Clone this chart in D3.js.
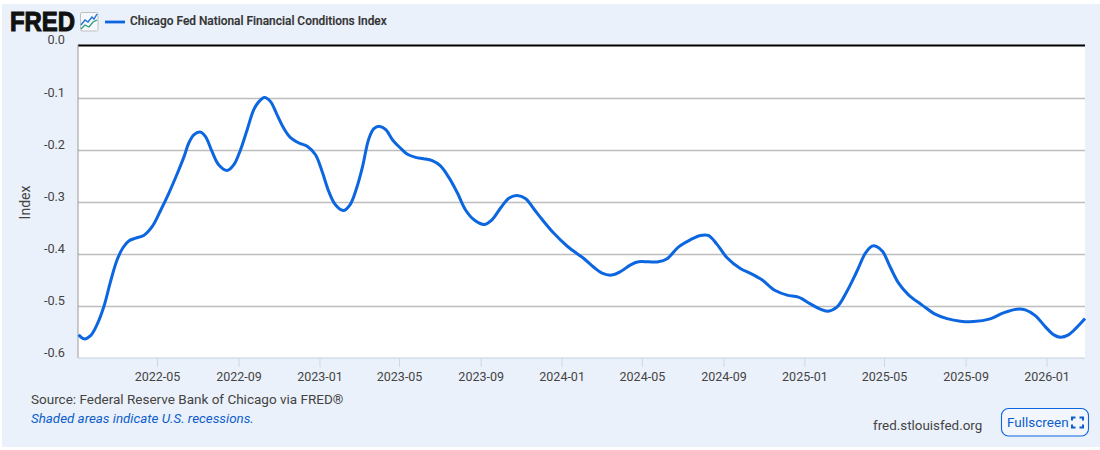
<!DOCTYPE html>
<html><head><meta charset="utf-8">
<script src="https://cdn.jsdelivr.net/npm/d3@7/dist/d3.min.js"></script>
<style>
html,body{margin:0;padding:0;background:#fff;overflow:hidden}
svg{display:block}
text{font-family:Roboto,sans-serif}
</style></head><body>
<svg id="c" width="1100" height="450"></svg>
<script>
const seriesName = "Chicago Fed National Financial Conditions Index";
const dates = ["2022-01-03","2022-01-11","2022-01-21","2022-01-31","2022-02-10","2022-02-20","2022-03-02","2022-03-11","2022-03-20","2022-03-30","2022-04-11","2022-04-24","2022-05-07","2022-05-19","2022-06-01","2022-06-11","2022-06-18","2022-06-26","2022-07-05","2022-07-13","2022-07-23","2022-08-02","2022-08-15","2022-08-25","2022-09-04","2022-09-14","2022-09-24","2022-10-02","2022-10-10","2022-10-19","2022-10-29","2022-11-08","2022-11-18","2022-12-01","2022-12-14","2022-12-26","2023-01-05","2023-01-15","2023-01-25","2023-02-06","2023-02-16","2023-02-26","2023-03-07","2023-03-16","2023-03-24","2023-04-02","2023-04-11","2023-04-21","2023-05-03","2023-05-13","2023-05-26","2023-06-07","2023-06-20","2023-07-02","2023-07-15","2023-07-28","2023-08-09","2023-08-22","2023-09-06","2023-09-18","2023-10-01","2023-10-14","2023-10-26","2023-11-08","2023-11-20","2023-12-03","2023-12-20","2024-01-10","2024-02-04","2024-02-19","2024-03-02","2024-03-16","2024-03-30","2024-04-14","2024-04-26","2024-05-11","2024-05-26","2024-06-08","2024-06-25","2024-07-13","2024-07-28","2024-08-09","2024-08-22","2024-09-06","2024-09-27","2024-10-11","2024-10-29","2024-11-18","2024-12-06","2024-12-23","2025-01-10","2025-01-25","2025-02-05","2025-02-19","2025-03-06","2025-03-21","2025-04-03","2025-04-13","2025-04-20","2025-04-29","2025-05-10","2025-05-23","2025-06-07","2025-06-27","2025-07-17","2025-08-04","2025-08-24","2025-09-13","2025-10-08","2025-10-28","2025-11-17","2025-11-30","2025-12-15","2025-12-30","2026-01-12","2026-01-22","2026-02-03","2026-02-16","2026-02-28"];
const values = [-.5555,-.5632,-.5570,-.5350,-.5011,-.4530,-.4112,-.3875,-.3746,-.3694,-.3644,-.3471,-.3149,-.2828,-.2443,-.2123,-.1865,-.1705,-.1654,-.1738,-.2028,-.2283,-.2393,-.2283,-.1994,-.1609,-.1224,-.1065,-.0988,-.1065,-.1320,-.1577,-.1757,-.1865,-.1931,-.2091,-.2412,-.2797,-.3053,-.3163,-.3053,-.2732,-.2316,-.1802,-.1590,-.1546,-.1609,-.1802,-.1962,-.2077,-.2142,-.2167,-.2206,-.2302,-.2527,-.2828,-.3149,-.3342,-.3432,-.3342,-.3116,-.2924,-.2874,-.2937,-.3130,-.3342,-.3598,-.3856,-.4092,-.4260,-.4368,-.4406,-.4337,-.4208,-.4150,-.4150,-.4150,-.4092,-.3867,-.3727,-.3644,-.3644,-.3810,-.4067,-.4285,-.4368,-.4497,-.4703,-.4791,-.4830,-.4959,-.5061,-.5099,-.5022,-.4722,-.4337,-.3983,-.3848,-.3856,-.3952,-.4241,-.4560,-.4785,-.4978,-.5157,-.5242,-.5292,-.5299,-.5247,-.5132,-.5061,-.5074,-.5184,-.5396,-.5555,-.5600,-.5555,-.5407,-.5242];
const xTickLabels = ["2022-05","2022-09","2023-01","2023-05","2023-09","2024-01","2024-05","2024-09","2025-01","2025-05","2025-09","2026-01"];
const yTicks = [0,-0.1,-0.2,-0.3,-0.4,-0.5,-0.6];
const sourceText = "Source: Federal Reserve Bank of Chicago via FRED®";
const noteText = "Shaded areas indicate U.S. recessions.";
const siteText = "fred.stlouisfed.org";

const parse = d3.utcParse("%Y-%m-%d"), parseM = d3.utcParse("%Y-%m"), fmtM = d3.utcFormat("%Y-%m");
const L=78,R=1085,T=46,B=358;
const svg = d3.select("#c");
svg.append("rect").attr("x",2).attr("y",4).attr("width",1098).attr("height",443).attr("fill","#ebf1fa");
svg.append("rect").attr("x",L).attr("y",T-1).attr("width",R-L).attr("height",B-T+1).attr("fill","#fff");

const x = d3.scaleUtc().domain([parse("2022-01-02"),parse("2026-02-28")]).range([L,R]);
const y = d3.scaleLinear().domain([-0.6,0]).range([B,T]);

// y axis + gridlines
const gy = svg.append("g").attr("transform",`translate(${L},0)`)
  .call(d3.axisLeft(y).tickValues(yTicks).tickSize(-(R-L)).tickPadding(0).tickFormat(d3.format(".1f")));
gy.select(".domain").remove();
gy.selectAll("line").attr("stroke",d=>d===0?"#000":"#bdbdbd").attr("stroke-width",d=>d===0?2:1.6)
  .attr("transform",d=>d===0?"translate(0,-0.9)":null);
gy.selectAll("line").filter(d=>d===-0.6).remove();
gy.selectAll("text").attr("x",-13).attr("dy",0).attr("y",-2).attr("font-size",12.7).attr("fill","#444")
  .attr("transform",d=>d===0?"translate(0,-1)":null)
  .text(d=>d3.format(".1f")(d).replace("−","-"));
svg.append("line").attr("x1",L).attr("x2",L).attr("y1",T-1).attr("y2",B).attr("stroke","#9a9a9a").attr("stroke-width",1);

// x axis
const gx = svg.append("g").attr("transform",`translate(0,${B})`)
  .call(d3.axisBottom(x).tickValues(xTickLabels.map(parseM)).tickSize(9).tickPadding(5).tickFormat(fmtM));
gx.select(".domain").attr("d",`M${L},0H${R}`).attr("stroke","#c4cde0").attr("stroke-width",1.2);
gx.selectAll("line").attr("stroke","#ccd6eb");
gx.selectAll("text").attr("font-size",12.5).attr("fill","#444");

// line
const data = dates.map((d,i)=>({d:parse(d),v:values[i]}));
svg.append("path").datum(data).attr("fill","none").attr("stroke","#0b66e0").attr("stroke-width",3)
  .attr("stroke-linejoin","round")
  .attr("d",d3.line().x(p=>x(p.d)).y(p=>y(p.v)).curve(d3.curveCatmullRom.alpha(0.5)));

// axis title
svg.append("text").attr("transform","translate(29.5,202.5) rotate(-90)").attr("text-anchor","middle")
  .attr("font-size",14).attr("fill","#444").text("Index");

// logo
svg.append("text").attr("x",10).attr("y",31).attr("textLength",65).attr("lengthAdjust","spacingAndGlyphs")
  .attr("style","font-family:'Liberation Sans',sans-serif;font-weight:700").attr("font-size",27)
  .attr("stroke","#111").attr("stroke-width",1.1).attr("fill","#111").text("FRED");
const ic = svg.append("g").attr("transform","translate(80,12)");
ic.append("rect").attr("x",0.5).attr("y",0.5).attr("width",17.5).attr("height",18.5).attr("rx",1.5).attr("fill","#f6f8fb").attr("stroke","#c0c0c0");
ic.append("path").attr("d","M1,13 L5,8 L8,10 L12,5 L14,7 L17,2").attr("fill","none").attr("stroke","#1f72d8").attr("stroke-width",1.4);
ic.append("path").attr("d","M1,17 L5,13 L9,15 L13,10 L17,8").attr("fill","none").attr("stroke","#2e9d78").attr("stroke-width",1.3);

// legend
svg.append("line").attr("x1",105).attr("x2",125).attr("y1",22).attr("y2",22).attr("stroke","#0b66e0").attr("stroke-width",2.8);
svg.append("text").attr("x",130).attr("y",25).attr("font-size",11.9).attr("font-weight",500).attr("stroke","#333").attr("stroke-width",0.2).attr("fill","#333").text(seriesName);

// footer
svg.append("text").attr("x",31).attr("y",404).attr("font-size",13.5).attr("fill","#444").text(sourceText);
svg.append("text").attr("x",31).attr("y",423).attr("font-size",13.35).attr("font-style","italic").attr("fill","#0b5ecb").text(noteText);
svg.append("text").attr("x",873).attr("y",430).attr("font-size",13.4).attr("fill","#444").text(siteText);

// fullscreen button
svg.append("rect").attr("x",1001.5).attr("y",408.5).attr("width",87).attr("height",27.5).attr("rx",7).attr("fill","#f3f6fc").attr("stroke","#0b66e0").attr("stroke-width",1.1);
svg.append("text").attr("x",1007).attr("y",427).attr("font-size",13.5).attr("fill","#0b5ecb").text("Fullscreen");
svg.append("path").attr("fill","none").attr("stroke","#0b5ecb").attr("stroke-width",2)
  .attr("d","M1072,420.5V417.5H1075.5 M1079.5,417.5H1083V420.5 M1083,424.5V427.5H1079.5 M1075.5,427.5H1072V424.5");
</script>
</body></html>
